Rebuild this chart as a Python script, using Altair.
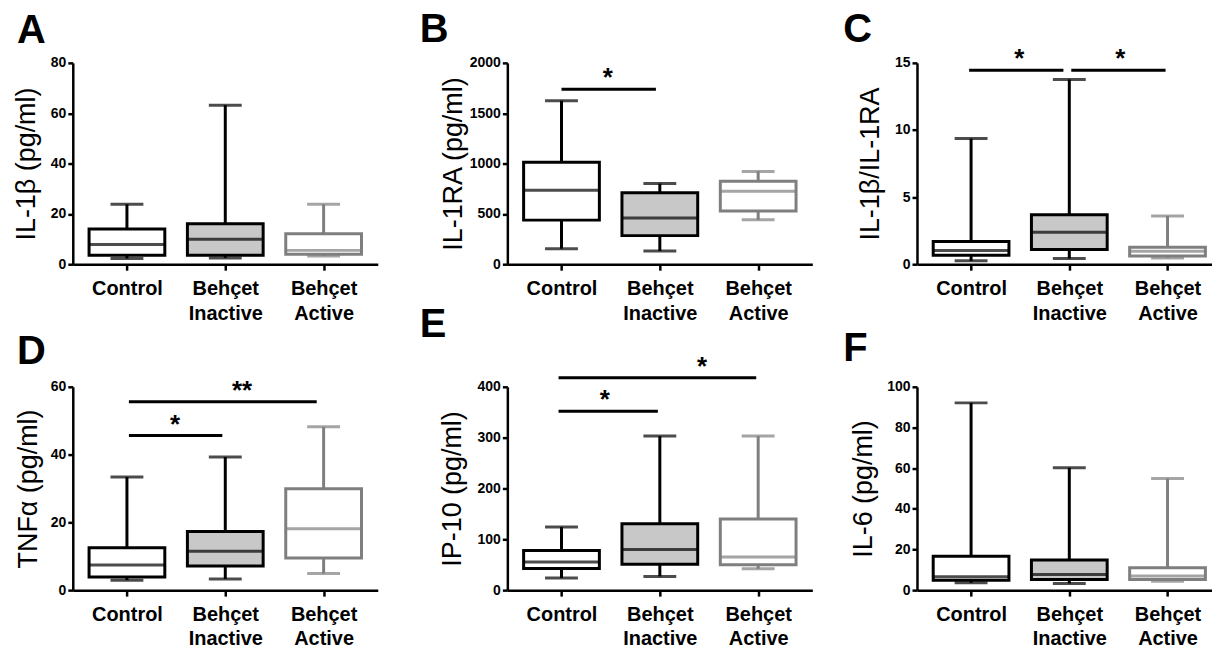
import json
import altair as alt
import pandas as pd

categories = ["Control", "Behçet Inactive", "Behçet Active"]
cat_index = [0, 1, 2]

# ---- Panel A: IL-1β (pg/ml)
a_min = [2.3, 2.5, 3.3]
a_q1 = [3.6, 3.6, 4.0]
a_med = [7.8, 9.9, 5.5]
a_q3 = [14.0, 16.1, 12.1]
a_max = [23.8, 63.2, 23.8]
a_ticks = [0, 20, 40, 60, 80]

# ---- Panel B: IL-1RA (pg/ml)
b_min = [154, 131, 441]
b_q1 = [438, 284, 529]
b_med = [735, 458, 726]
b_q3 = [1013, 709, 824]
b_max = [1624, 801, 922]
b_ticks = [0, 500, 1000, 1500, 2000]
b_sig_from = [0.0]
b_sig_to = [0.96]
b_sig_y = [1739]
b_sig_star_x = [0.47]
b_sig_label = ["*"]

# ---- Panel C: IL-1β/IL-1RA
c_min = [0.25, 0.42, 0.47]
c_q1 = [0.66, 1.10, 0.61]
c_med = [1.03, 2.38, 0.96]
c_q3 = [1.69, 3.68, 1.27]
c_max = [9.36, 13.77, 3.60]
c_ticks = [0, 5, 10, 15]
c_sig_from = [-0.02, 1.02]
c_sig_to = [0.94, 1.98]
c_sig_y = [14.46, 14.46]
c_sig_star_x = [0.49, 1.52]
c_sig_label = ["*", "*"]

# ---- Panel D: TNFα (pg/ml)
d_min = [2.95, 3.3, 4.9]
d_q1 = [3.9, 7.1, 9.5]
d_med = [7.4, 11.5, 18.1]
d_q3 = [12.5, 17.3, 29.9]
d_max = [33.4, 39.3, 48.2]
d_ticks = [0, 20, 40, 60]
d_sig_from = [0.02, 0.02]
d_sig_to = [0.97, 1.93]
d_sig_y = [45.6, 55.6]
d_sig_star_x = [0.49, 1.17]
d_sig_label = ["*", "**"]

# ---- Panel E: IP-10 (pg/ml)
e_min = [24, 27, 42]
e_q1 = [42.4, 51, 50]
e_med = [55.5, 80, 65]
e_q3 = [78, 130.5, 140]
e_max = [124, 303, 303]
e_ticks = [0, 100, 200, 300, 400]
e_sig_from = [-0.03, -0.03]
e_sig_to = [0.98, 1.98]
e_sig_y = [352, 418]
e_sig_star_x = [0.44, 1.43]
e_sig_label = ["*", "*"]

# ---- Panel F: IL-6 (pg/ml)
f_min = [3.6, 3.3, 4.4]
f_q1 = [4.9, 5.2, 5.2]
f_med = [6.6, 7.7, 6.9]
f_q3 = [16.7, 14.8, 11.0]
f_max = [92.1, 60.2, 54.9]
f_ticks = [0, 20, 40, 60, 80, 100]

# ---- styles
FONT = "Liberation Sans"
stroke_colors = ["#000000", "#000000", "#7f7f7f"]
fill_colors = ["#ffffff", "#c8c8c8", "#ffffff"]
STEP = 102
BOX_W = 76
CAP_W = 33
LW = 3
ROW1_H = 202
ROW2_H = 204

label_lines = [c.split(" ") for c in categories]
label_expr = json.dumps(label_lines, ensure_ascii=False) + "[datum.value]"


def panel(letter, letter_dx, letter_dy, ytitle, title_pad, ticks, mins, q1s, meds, q3s, maxs,
          sig=None, width=306, height=ROW1_H):
    df = pd.DataFrame({"idx": cat_index, "cat": categories, "lo": mins, "q1": q1s,
                       "med": meds, "q3": q3s, "hi": maxs})
    xscale = alt.Scale(domain=[-0.5, -0.5 + width / STEP], nice=False, zero=False)
    xaxis = alt.Axis(values=cat_index, labelExpr=label_expr, title=None)
    yscale = alt.Scale(domain=[ticks[0], ticks[-1]], nice=False, zero=True)
    yaxis = alt.Axis(values=ticks, title=ytitle, titlePadding=title_pad, format="d")

    def X(f="idx"):
        return alt.X(f + ":Q", scale=xscale, axis=xaxis)

    def Y(f):
        return alt.Y(f + ":Q", scale=yscale, axis=yaxis)

    stroke = alt.Stroke("cat:N", scale=alt.Scale(domain=categories, range=stroke_colors), legend=None)
    fill = alt.Fill("cat:N", scale=alt.Scale(domain=categories, range=fill_colors), legend=None)
    color = alt.Color("cat:N", scale=alt.Scale(domain=categories, range=stroke_colors), legend=None)

    base = alt.Chart(df)
    whisker = base.mark_rule(strokeWidth=LW).encode(x=X(), y=Y("lo"), y2="hi:Q", stroke=stroke)
    box = base.mark_bar(size=BOX_W, strokeWidth=LW).encode(x=X(), y=Y("q1"), y2="q3:Q", fill=fill, stroke=stroke)
    med = base.mark_tick(orient="horizontal", size=BOX_W, thickness=LW).encode(x=X(), y=Y("med"), color=color)
    cap_lo = base.mark_tick(orient="horizontal", size=CAP_W, thickness=LW).encode(x=X(), y=Y("lo"), color=color)
    cap_hi = base.mark_tick(orient="horizontal", size=CAP_W, thickness=LW).encode(x=X(), y=Y("hi"), color=color)
    layers = [whisker, box, med, cap_lo, cap_hi]

    if sig is not None:
        s_from, s_to, s_y, s_x, s_lab = sig
        sdf = pd.DataFrame({"x1": s_from, "x2": s_to, "y": s_y, "sx": s_x, "lab": s_lab})
        sbase = alt.Chart(sdf)
        layers.append(sbase.mark_rule(strokeWidth=LW, color="black").encode(
            x=X("x1"), x2="x2:Q", y=Y("y")))
        layers.append(sbase.mark_text(fontSize=26, fontWeight="bold", font=FONT, color="black",
                                      baseline="alphabetic", dy=-3).encode(
            x=X("sx"), y=Y("y"), text="lab:N"))

    return alt.layer(*layers).properties(
        width=width, height=height,
        title=alt.TitleParams(letter, anchor="start", frame="group", dx=letter_dx, dy=letter_dy,
                              fontSize=40, fontWeight="bold", font=FONT, color="black",
                              baseline="alphabetic", offset=12),
    )


def spacer(w, h):
    return alt.Chart(pd.DataFrame({"v": [0]})).mark_point(opacity=0).properties(width=w, height=h)


pA = panel("A", -56, 39, "IL-1β (pg/ml)", 10, a_ticks, a_min, a_q1, a_med, a_q3, a_max)
pB = panel("B", -88, 38, "IL-1RA (pg/ml)", 2, b_ticks, b_min, b_q1, b_med, b_q3, b_max,
           sig=(b_sig_from, b_sig_to, b_sig_y, b_sig_star_x, b_sig_label))
pC = panel("C", -74, 48, "IL-1β/IL-1RA", 10, c_ticks, c_min, c_q1, c_med, c_q3, c_max,
           sig=(c_sig_from, c_sig_to, c_sig_y, c_sig_star_x, c_sig_label), width=296)
pD = panel("D", -56, 38, "TNFα (pg/ml)", 8, d_ticks, d_min, d_q1, d_med, d_q3, d_max,
           sig=(d_sig_from, d_sig_to, d_sig_y, d_sig_star_x, d_sig_label), height=ROW2_H)
pE = panel("E", -88, 35, "IP-10 (pg/ml)", 11, e_ticks, e_min, e_q1, e_med, e_q3, e_max,
           sig=(e_sig_from, e_sig_to, e_sig_y, e_sig_star_x, e_sig_label), height=ROW2_H)
pF = panel("F", -74, 33, "IL-6 (pg/ml)", 9, f_ticks, f_min, f_q1, f_med, f_q3, f_max,
           width=296, height=ROW2_H)

chart = alt.concat(
    pA, spacer(130, ROW1_H), pB, spacer(105, ROW1_H), pC,
    pD, spacer(130, ROW2_H), pE, spacer(105, ROW2_H), pF,
    columns=5, spacing={"row": 123, "column": 0}, bounds="flush",
).properties(
    padding={"left": 4, "top": 1, "right": 0, "bottom": 0}
).configure_view(stroke=None).configure_axis(
    grid=False, domainColor="black", domainWidth=2.5, tickColor="black", tickWidth=2.5,
    tickSize=5, labelColor="black", labelFont=FONT, labelFontWeight="bold", labelFontSize=14,
    labelPadding=2, titleColor="black", titleFont=FONT, titleFontWeight="normal", titleFontSize=27,
).configure_axisX(
    labelFontSize=20, labelLineHeight=25, labelPadding=8, tickSize=6,
)

chart.save("out.html", embed_options={"renderer": "svg", "actions": False})
